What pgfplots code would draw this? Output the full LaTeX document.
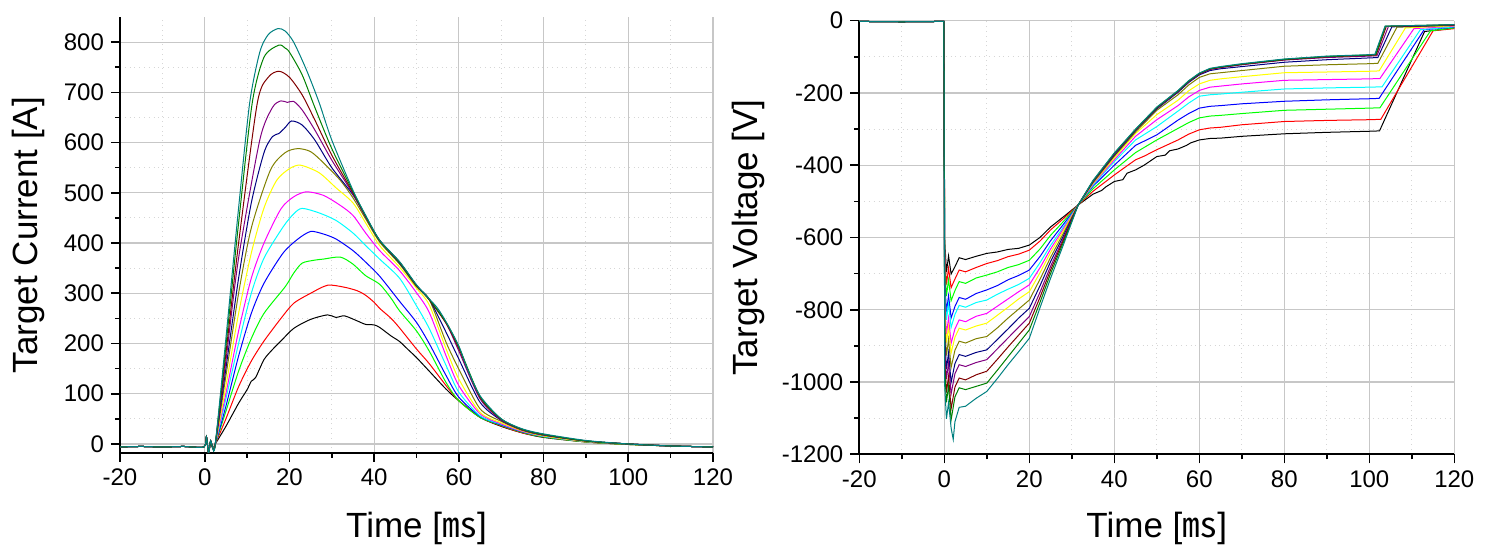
\documentclass[border=0pt]{standalone}
\usepackage{pgfplots}
\pgfplotsset{compat=1.18}
\usepackage{fontspec}
\setmainfont{Liberation Sans}
\newfontfamily\cjk{Noto Sans CJK SC}
\definecolor{c0}{RGB}{0,0,0}
\definecolor{c1}{RGB}{255,0,0}
\definecolor{c2}{RGB}{0,255,0}
\definecolor{c3}{RGB}{0,0,255}
\definecolor{c4}{RGB}{0,255,255}
\definecolor{c5}{RGB}{255,0,255}
\definecolor{c6}{RGB}{255,255,0}
\definecolor{c7}{RGB}{128,128,0}
\definecolor{c8}{RGB}{0,0,128}
\definecolor{c9}{RGB}{128,0,128}
\definecolor{c10}{RGB}{128,0,0}
\definecolor{c11}{RGB}{0,128,0}
\definecolor{c12}{RGB}{0,128,128}
\pgfplotsset{
  myaxis/.style={
    scale only axis,
    axis lines=left,
    axis line style={-, line width=1pt},
    xmin=-20, xmax=120,
    xtick={-20,0,...,120},
    minor x tick num=1,
    minor y tick num=1,
    grid=both,
    major grid style={draw=black!22, line width=0.6pt},
    minor grid style={draw=black!16, dotted, line width=0.5pt},
    tick align=outside,
    major tick length=4.5pt,
    minor tick length=2.5pt,
    tick style={black, line width=0.8pt},
    tick label style={font=\fontsize{12}{14}\selectfont},
    label style={font=\fontsize{17.5}{20}\selectfont},
    /pgf/number format/assume math mode=true,
    /pgf/number format/1000 sep={},
    every axis plot/.append style={line width=0.5pt, mark=none},
    xlabel={Time [{\cjk ㎳}]},
  }
}
\begin{document}
\begin{tikzpicture}
\path[use as bounding box] (0,0) rectangle (744.5pt,275.5pt);
% ---------------- left: current ----------------
\begin{axis}[myaxis,
  at={(60pt,49pt)}, anchor=south west,
  width=296.5pt, height=218pt,
  ymin=-18, ymax=850,
  ytick={0,100,...,800},
  ylabel={Target Current [A]},
  xlabel style={at={(axis description cs:0.5,-0.174)}, anchor=center},
  ylabel style={at={(axis description cs:-0.154,0.5)}, anchor=center},
  every axis plot/.append style={smooth, tension=0.45},
]
\addplot[c0] coordinates {(-20,-6)(-15,-5)(-10,-6)(-5,-5)(-0.2,-6)(0.4,14)(0.9,-18)(1.4,6)(1.9,-8)(2.5,0)
(5,35)(8,81)(10,108)(11,125)(12,132)(14,168)(16,188)(18,205)(21,230)(25,248)(29,257)(31,252)(33,255)(36,245)(38,238)(40,237)(41.3,232)(44,215)(46,204)(48,188)(50,172)(53,145)(57,109)(60,86)(65,53)(70,35)(75,22)(80,13)(90,4)(100,-1)(110,-4)(120,-6)};
\addplot[c1] coordinates {(-20,-6)(-15,-5)(-10,-6)(-5,-5)(-0.2,-6)(0.4,14)(0.9,-18)(1.4,6)(1.9,-8)(2.5,0)
(5,50)(8,114)(11,165)(14,205)(18,250)(21,280)(25,300)(29,316)(33,312)(36,305)(38,296)(40,282)(41.3,270)(44,250)(46,231)(50,189)(53,160)(57,116)(60,86)(65,53)(70,36)(75,22)(80,14)(90,4)(100,-1)(110,-4)(120,-6)};
\addplot[c2] coordinates {(-20,-6)(-15,-5)(-10,-6)(-5,-5)(-0.2,-6)(0.4,14)(0.9,-18)(1.4,6)(1.9,-8)(2.5,0)
(5,65)(8,145)(11,210)(14,260)(19,313)(21,340)(23,360)(26,366)(28,368)(32,372)(35,358)(38,335)(41.3,318)(44,290)(46,265)(50,225)(53,185)(57,122)(60,86)(65,53)(70,37)(75,23)(80,14)(90,4)(100,-1)(110,-4)(120,-6)};
\addplot[c3] coordinates {(-20,-6)(-15,-5)(-10,-6)(-5,-5)(-0.2,-6)(0.4,14)(0.9,-18)(1.4,6)(1.9,-8)(2.5,0)
(5,75)(8,175)(11,260)(14,320)(18.5,380)(22,408)(25,423)(28,418)(31,408)(35,385)(38,362)(41.3,334)(46,284)(50,242)(53,200)(57,136)(60,93)(65,55)(70,38)(75,24)(80,15)(90,5)(100,0)(110,-4)(120,-6)};
\addplot[c4] coordinates {(-20,-6)(-15,-5)(-10,-6)(-5,-5)(-0.2,-6)(0.4,14)(0.9,-18)(1.4,6)(1.9,-8)(2.5,0)
(5,90)(8,200)(11,300)(14,370)(18.5,432)(21,458)(23,469)(27,460)(31,445)(35,420)(38,395)(41.3,368)(46,330)(50,275)(53,230)(57,156)(60,103)(65,56)(70,39)(75,25)(80,15)(90,5)(100,0)(110,-4)(120,-6)};
\addplot[c5] coordinates {(-20,-6)(-15,-5)(-10,-6)(-5,-5)(-0.2,-6)(0.4,14)(0.9,-18)(1.4,6)(1.9,-8)(2.5,0)
(5,100)(8,225)(11,330)(14,400)(18,468)(21,492)(24,502)(28,495)(32,475)(35,455)(38,420)(41.3,385)(46,345)(50,301)(53,262)(57,175)(60,116)(65,60)(70,40)(75,25)(80,16)(90,5)(100,0)(110,-4)(120,-6)};
\addplot[c6] coordinates {(-20,-6)(-15,-5)(-10,-6)(-5,-5)(-0.2,-6)(0.4,14)(0.9,-18)(1.4,6)(1.9,-8)(2.5,0)
(5,115)(8,260)(11,380)(14,470)(17,525)(20,548)(22.6,555)(27,540)(31,510)(35,480)(38,440)(41.3,395)(46,352)(50,310)(53,277)(57,189)(60,129)(65,63)(70,42)(75,26)(80,16)(90,5)(100,0)(110,-4)(120,-6)};
\addplot[c7] coordinates {(-20,-6)(-15,-5)(-10,-6)(-5,-5)(-0.2,-6)(0.4,14)(0.9,-18)(1.4,6)(1.9,-8)(2.5,0)
(5,135)(8,300)(11,430)(15.5,545)(19,580)(22,588)(25,582)(28,560)(32,525)(35,490)(38,448)(41.3,402)(46,358)(50,313)(53,288)(57,202)(60,149)(65,70)(70,45)(75,27)(80,17)(90,6)(100,0)(110,-4)(120,-6)};
\addplot[c8] coordinates {(-20,-6)(-15,-5)(-10,-6)(-5,-5)(-0.2,-6)(0.4,14)(0.9,-18)(1.4,6)(1.9,-8)(2.5,0)
(5,150)(8,330)(11,480)(14,580)(16,612)(17.5,618)(19,630)(20.5,643)(23,635)(26,605)(30,550)(35,496)(38,452)(41.3,405)(46,360)(50,315)(53,288)(57,222)(60,169)(65,83)(70,47)(75,28)(80,18)(90,6)(100,0)(110,-4)(120,-6)};
\addplot[c9] coordinates {(-20,-6)(-15,-5)(-10,-6)(-5,-5)(-0.2,-6)(0.4,14)(0.9,-18)(1.4,6)(1.9,-8)(2.5,0)
(5,165)(8,370)(13,605)(16,670)(18,683)(19.5,680)(21,682)(23,665)(26,625)(30,565)(35,498)(38,452)(41.3,405)(46,362)(50,315)(53,288)(57,240)(60,185)(65,90)(70,48)(75,28)(80,18)(90,6)(100,0)(110,-4)(120,-6)};
\addplot[c10] coordinates {(-20,-6)(-15,-5)(-10,-6)(-5,-5)(-0.2,-6)(0.4,14)(0.9,-18)(1.4,6)(1.9,-8)(2.5,0)
(5,180)(8,400)(12.4,678)(15,730)(17.5,742)(20,730)(23,695)(26,645)(30,575)(35,500)(38,453)(41.3,405)(46,362)(50,315)(53,287)(57,240)(60,190)(65,93)(70,49)(75,29)(80,19)(90,6)(100,0)(110,-4)(120,-6)};
\addplot[c11] coordinates {(-20,-6)(-15,-5)(-10,-6)(-5,-5)(-0.2,-6)(0.4,14)(0.9,-18)(1.4,6)(1.9,-8)(2.5,0)
(5,195)(8,440)(11.2,678)(14,770)(17.5,794)(19,788)(20,780)(23,735)(26,670)(30,588)(35,503)(38,454)(41.3,405)(46,362)(50,316)(53,288)(57,242)(60,193)(65,95)(70,50)(75,29)(80,19)(90,6)(100,0)(110,-4)(120,-6)};
\addplot[c12] coordinates {(-20,-6)(-15,-5)(-10,-6)(-5,-5)(-0.2,-6)(0.4,14)(0.9,-18)(1.4,6)(1.9,-8)(2.5,0)
(5,210)(8,470)(10.6,678)(13,780)(15,815)(17.3,827)(19,822)(21,800)(24,745)(27,680)(30,605)(35,505)(38,455)(41.3,406)(46,363)(50,317)(53,289)(55,270)(57,243)(60,195)(62,150)(65,96)(70,50)(75,30)(80,20)(90,7)(100,0)(110,-4)(120,-6)};
\end{axis}
% ---------------- right: voltage ----------------
\begin{axis}[myaxis,
  at={(429.65pt,48.35pt)}, anchor=south west,
  width=297.5pt, height=216.8pt,
  ymin=-1200, ymax=0,
  ytick={-1200,-1000,...,0},
  clip=false,
  ylabel={Target Voltage [V]},
  xlabel style={at={(axis description cs:0.5,-0.172)}, anchor=center},
  ylabel style={at={(axis description cs:-0.187,0.5)}, anchor=center},
]
\addplot[c0] coordinates {(-20,-2)(-10,-3)(-0.1,-2)(0.1,-606)(0.5,-696)(1.0,-651)(1.6,-701)(2.5,-681)(3.5,-656)(5,-661)(7.5,-652)(10,-644)(12.5,-640)(15,-633)(17.5,-630)(20,-621)(22.5,-600)(25,-571)(28,-543)(31.5,-510)(35,-480)(37,-470)(38,-460)(40,-445)(42,-440)(43,-422)(45,-413)(47,-400)(48,-392)(50,-376)(52,-372)(53,-360)(55,-355)(57,-345)(58,-338)(60,-330)(62.5,-326)(65,-325)(70,-320)(80,-313)(90,-309)(100,-306)(102.4,-305)(113,-30)(120,-20)};
\addplot[c1] coordinates {(-20,-2)(-10,-3)(-0.1,-2)(0.1,-640)(0.5,-730)(1.0,-685)(1.6,-739)(2.5,-715)(3.5,-690)(5,-695)(7.5,-683)(10,-672)(12.5,-664)(15,-653)(17.5,-646)(20,-635)(22.5,-610)(25,-579)(28,-548)(31.5,-510)(35,-472)(40,-427)(42,-410)(45,-385)(47,-375)(50,-357)(55,-330)(57.5,-314)(60,-302)(62.5,-297)(65,-295)(70,-288)(80,-279)(90,-276)(100,-274)(102.7,-273)(115,-28)(120,-22)};
\addplot[c2] coordinates {(-20,-2)(-10,-3)(-0.1,-2)(0.1,-672)(0.5,-762)(1.0,-717)(1.6,-775)(2.5,-747)(3.5,-722)(5,-727)(7.5,-712)(10,-704)(12.5,-695)(15,-683)(17.5,-675)(20,-663)(22.5,-632)(25,-594)(28,-556)(31.5,-510)(35,-465)(40,-413)(45,-365)(50,-330)(55,-298)(57.5,-282)(60,-269)(62.5,-264)(65,-262)(70,-257)(80,-248)(90,-245)(100,-242)(102.5,-241)(114.4,-28)(120,-20)};
\addplot[c3] coordinates {(-20,-2)(-10,-3)(-0.1,-2)(0.1,-716)(0.5,-806)(1.0,-761)(1.6,-823)(2.5,-791)(3.5,-766)(5,-771)(7.5,-755)(10,-745)(12.5,-733)(15,-717)(17.5,-705)(20,-690)(22.5,-653)(25,-609)(28,-564)(31.5,-510)(35,-458)(40,-400)(45,-345)(50,-316)(55,-275)(57.5,-257)(60,-242)(62.5,-237)(65,-235)(70,-230)(80,-223)(90,-219)(100,-216)(102.3,-215)(112.9,-25)(120,-18)};
\addplot[c4] coordinates {(-20,-2)(-10,-3)(-0.1,-2)(0.1,-738)(0.5,-828)(1.0,-783)(1.6,-849)(2.5,-813)(3.5,-788)(5,-793)(7.5,-780)(10,-773)(12.5,-757)(15,-743)(17.5,-730)(20,-713)(22.5,-670)(25,-622)(28,-571)(31.5,-510)(35,-455)(40,-390)(45,-330)(50,-293)(55,-250)(57.5,-228)(60,-209)(62.5,-205)(65,-203)(70,-198)(80,-189)(90,-186)(100,-184)(103,-183)(112,-25)(120,-17)};
\addplot[c5] coordinates {(-20,-2)(-10,-3)(-0.1,-2)(0.1,-778)(0.5,-868)(1.0,-823)(1.6,-893)(2.5,-853)(3.5,-828)(5,-833)(7.5,-818)(10,-810)(12.5,-790)(15,-770)(17.5,-750)(20,-731)(22.5,-684)(25,-632)(28,-576)(31.5,-510)(35,-452)(40,-385)(45,-320)(50,-274)(55,-235)(57.5,-211)(60,-193)(62.5,-184)(65,-181)(70,-175)(80,-165)(90,-163)(100,-161)(102.5,-160)(110.5,-22)(120,-15)};
\addplot[c6] coordinates {(-20,-2)(-10,-3)(-0.1,-2)(0.1,-801)(0.5,-891)(1.0,-846)(1.6,-920)(2.5,-876)(3.5,-851)(5,-856)(7.5,-845)(10,-837)(12.5,-815)(15,-793)(17.5,-770)(20,-750)(22.5,-698)(25,-642)(28,-582)(31.5,-510)(35,-450)(40,-380)(45,-312)(50,-260)(55,-220)(57.5,-194)(60,-175)(62.5,-165)(65,-161)(70,-155)(80,-144)(90,-142)(100,-140)(102.3,-139)(108.5,-20)(120,-14)};
\addplot[c7] coordinates {(-20,-2)(-10,-3)(-0.1,-2)(0.1,-837)(0.5,-927)(1.0,-882)(1.6,-960)(2.5,-912)(3.5,-887)(5,-892)(7.5,-880)(10,-874)(12.5,-850)(15,-823)(17.5,-798)(20,-773)(22.5,-716)(25,-655)(28,-589)(31.5,-510)(35,-448)(40,-375)(45,-308)(50,-248)(55,-205)(57.5,-178)(60,-157)(62.5,-147)(65,-144)(70,-138)(80,-126)(90,-122)(100,-119)(102,-118)(106.5,-18)(120,-13)};
\addplot[c8] coordinates {(-20,-2)(-10,-3)(-0.1,-2)(0.1,-874)(0.5,-964)(1.0,-919)(1.6,-1001)(2.5,-949)(3.5,-924)(5,-929)(7.5,-918)(10,-911)(12.5,-882)(15,-853)(17.5,-823)(20,-796)(22.5,-734)(25,-667)(28,-596)(31.5,-510)(35,-446)(40,-372)(45,-304)(50,-244)(55,-198)(57.5,-171)(60,-150)(62.5,-138)(65,-133)(70,-127)(80,-115)(90,-108)(100,-103)(102,-102)(105.3,-17)(120,-12)};
\addplot[c9] coordinates {(-20,-2)(-10,-3)(-0.1,-2)(0.1,-902)(0.5,-992)(1.0,-947)(1.6,-1033)(2.5,-977)(3.5,-952)(5,-957)(7.5,-946)(10,-938)(12.5,-908)(15,-878)(17.5,-848)(20,-819)(22.5,-752)(25,-680)(28,-603)(31.5,-510)(35,-445)(40,-370)(45,-303)(50,-242)(55,-196)(57.5,-169)(60,-148)(62.5,-135)(65,-130)(70,-122)(80,-109)(90,-102)(100,-98)(101.8,-97)(104.5,-16)(120,-12)};
\addplot[c10] coordinates {(-20,-2)(-10,-3)(-0.1,-2)(0.1,-939)(0.5,-1029)(1.0,-984)(1.6,-1074)(2.5,-1014)(3.5,-989)(5,-994)(7.5,-980)(10,-970)(12.5,-937)(15,-903)(17.5,-870)(20,-837)(22.5,-766)(25,-690)(28,-608)(31.5,-510)(35,-444)(40,-368)(45,-302)(50,-241)(55,-195)(57.5,-168)(60,-147)(62.5,-134)(65,-129)(70,-121)(80,-108)(90,-100)(100,-96)(101.6,-95)(104,-16)(120,-12)};
\addplot[c11] coordinates {(-20,-2)(-10,-3)(-0.1,-2)(0.1,-966)(0.5,-1056)(1.0,-1011)(1.6,-1105)(2.5,-1041)(3.5,-1016)(5,-1021)(7.5,-1012)(10,-1003)(12.5,-967)(15,-930)(17.5,-893)(20,-856)(22.5,-780)(25,-700)(28,-614)(31.5,-510)(35,-443)(40,-367)(45,-301)(50,-240)(55,-194)(57.5,-167)(60,-146)(62.5,-133)(65,-128)(70,-120)(80,-107)(90,-99)(100,-95)(101.5,-94)(103.8,-15)(120,-11)};
\addplot[c12] coordinates {(-20,-2)(-10,-3)(-0.1,-2)(0.1,-1012)(0.5,-1102)(1.0,-1057)(1.6,-1127)(2.1,-1159)(2.5,-1110)(3.5,-1070)(5,-1067)(7.5,-1045)(10,-1026)(12.5,-990)(15,-952)(17.5,-916)(20,-879)(22.5,-795)(25,-713)(28,-621)(31.5,-510)(35,-442)(40,-366)(45,-300)(50,-239)(55,-193)(57.5,-166)(60,-145)(62.5,-132)(65,-127)(70,-119)(80,-106)(90,-98)(100,-94)(101.3,-93)(103.7,-15)(120,-11)};
\end{axis}
\end{tikzpicture}
\end{document}
